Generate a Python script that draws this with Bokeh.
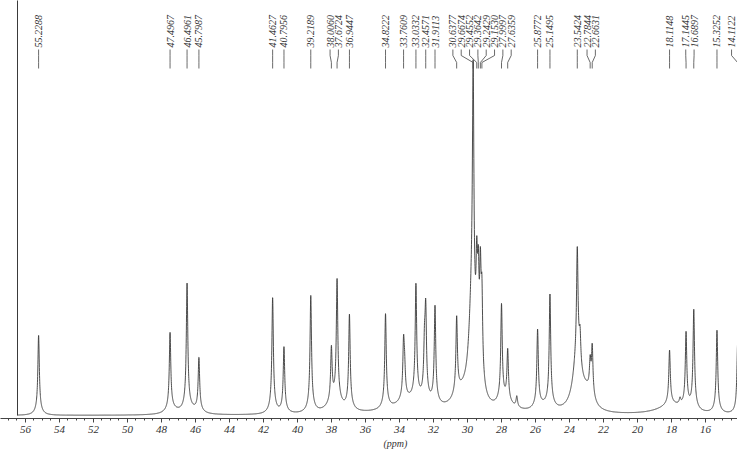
import numpy as np
from bokeh.plotting import figure
from bokeh.models import Range1d, SingleIntervalTicker, Title
from bokeh.embed import file_html
from bokeh.resources import INLINE
from bokeh.core.properties import value

# ---- data ----
# labelled peaks: chemical shift (ppm) and approximate intensity
peak_ppm = [55.2288, 47.4967, 46.4961, 45.7987, 41.4627, 40.7956, 39.2189,
            38.0060, 37.6724, 36.9447, 34.8222, 33.7609, 33.0332, 32.4571,
            31.9113, 30.6377, 29.6674, 29.4552, 29.3642, 29.2429, 29.1530,
            27.9997, 27.6359, 25.8772, 25.1495, 23.5424, 22.7844, 22.6631,
            18.1148, 17.1445, 16.6897, 15.3252, 14.1122]
peak_height = [80, 79, 128, 54, 116, 66, 117,
               55, 124, 95, 95, 55, 115, 85,
               98, 78, 260, 85, 80, 95, 80,
               98, 52, 78, 113, 112, 30, 50,
               55, 75, 100, 83, 70]

# small unlabelled lines / shoulders
extra_ppm = [33.70, 32.53, 27.10, 23.38, 17.50]
extra_height = [25, 45, 11, 30, 6]

# broad underlying humps
broad_ppm = [29.75, 30.30, 33.30, 23.55, 23.00, 18.00, 27.80, 25.50, 37.80, 47.30, 46.20]
broad_height = [80, 15, 12, 45, 15, 9, 7, 5, 8, 3, 3]
broad_width = [0.20, 0.60, 1.20, 0.30, 0.40, 1.00, 0.60, 0.60, 0.60, 0.50, 0.50]

sw_left = 56.47          # left edge of the recorded spectral window (ppm)
x_left, x_right = 57.47, 14.118

# ---- build the spectrum ----
def lor(x, x0, w):
    return w * w / ((x - x0) ** 2 + w * w)

ppm = np.linspace(sw_left, 13.8, 8000)
inten = np.zeros_like(ppm)
for x0, h in zip(peak_ppm + extra_ppm, peak_height + extra_height):
    inten += h * (0.9 * lor(ppm, x0, 0.05) + 0.1 * lor(ppm, x0, 0.2))
for x0, h, w in zip(broad_ppm, broad_height, broad_width):
    inten += h * lor(ppm, x0, w)

p = figure(width=737, height=463, output_backend="svg", toolbar_location=None,
           x_range=Range1d(x_left, x_right), y_range=Range1d(-3, 415),
           min_border_left=0, min_border_right=0, min_border_top=0,
           min_border_bottom=45, y_axis_location=None)
p.outline_line_color = None
p.xgrid.visible = False
p.ygrid.visible = False

line_col = "#3a3a3a"
p.line(ppm, inten, line_color=line_col, line_width=0.9)
p.segment(x0=[sw_left], y0=[0], x1=[sw_left], y1=[1000], line_color=line_col, line_width=1)

# ---- peak labels, spread so they do not overlap ----
def spread(targets, d, hi):
    pos = [-t for t in targets]
    order = np.argsort(pos)
    pos_sorted = [min(pos[i], hi) for i in order]
    groups = [[i] for i in range(len(pos_sorted))]

    def lay(g):
        c = np.mean([pos_sorted[i] for i in g])
        s = c - (len(g) - 1) * d / 2
        return [s + k * d for k in range(len(g))]

    merged = True
    while merged:
        merged = False
        for k in range(len(groups) - 1):
            a, b = lay(groups[k]), lay(groups[k + 1])
            if a[-1] + d > b[0] + 1e-9:
                groups[k] = groups[k] + groups[k + 1]
                del groups[k + 1]
                merged = True
                break
    out = [0.0] * len(pos_sorted)
    for g in groups:
        for i, v in zip(g, lay(g)):
            out[order[i]] = -v
    return out

label_x = spread(peak_ppm, 0.49, -(x_right + 0.35))
txt = ["%.4f" % v for v in peak_ppm]
p.text(x=label_x, y=[368] * len(txt), text=txt, angle=np.pi / 2,
       text_align="left", text_baseline="middle",
       text_font=value("Liberation Serif"), text_font_style="italic",
       text_font_size="10px", text_color="#333333")
xs = [[lx, lx, px, px] for lx, px in zip(label_x, peak_ppm)]
ys = [[366, 360, 353, 347]] * len(xs)
p.multi_line(xs=xs, ys=ys, line_color="#444444", line_width=0.8)

# ---- axis ----
ax = p.xaxis[0]
ax.ticker = SingleIntervalTicker(interval=2, num_minor_ticks=4)
ax.major_label_text_font = "Liberation Serif"
ax.major_label_text_font_style = "italic"
ax.major_label_text_font_size = "11px"
ax.major_label_text_color = "#333333"
ax.axis_line_color = "#444444"
ax.major_tick_line_color = "#444444"
ax.minor_tick_line_color = "#444444"
ax.major_tick_in = 0
ax.major_tick_out = 4
ax.minor_tick_in = 0
ax.minor_tick_out = 2
ax.major_label_standoff = 3

p.add_layout(Title(text="(ppm)", align="left", offset=383, standoff=0,
                   text_font="Liberation Serif", text_font_style="italic",
                   text_font_size="10px", text_color="#333333"), "below")

open("out.html", "w").write(file_html(p, INLINE))
